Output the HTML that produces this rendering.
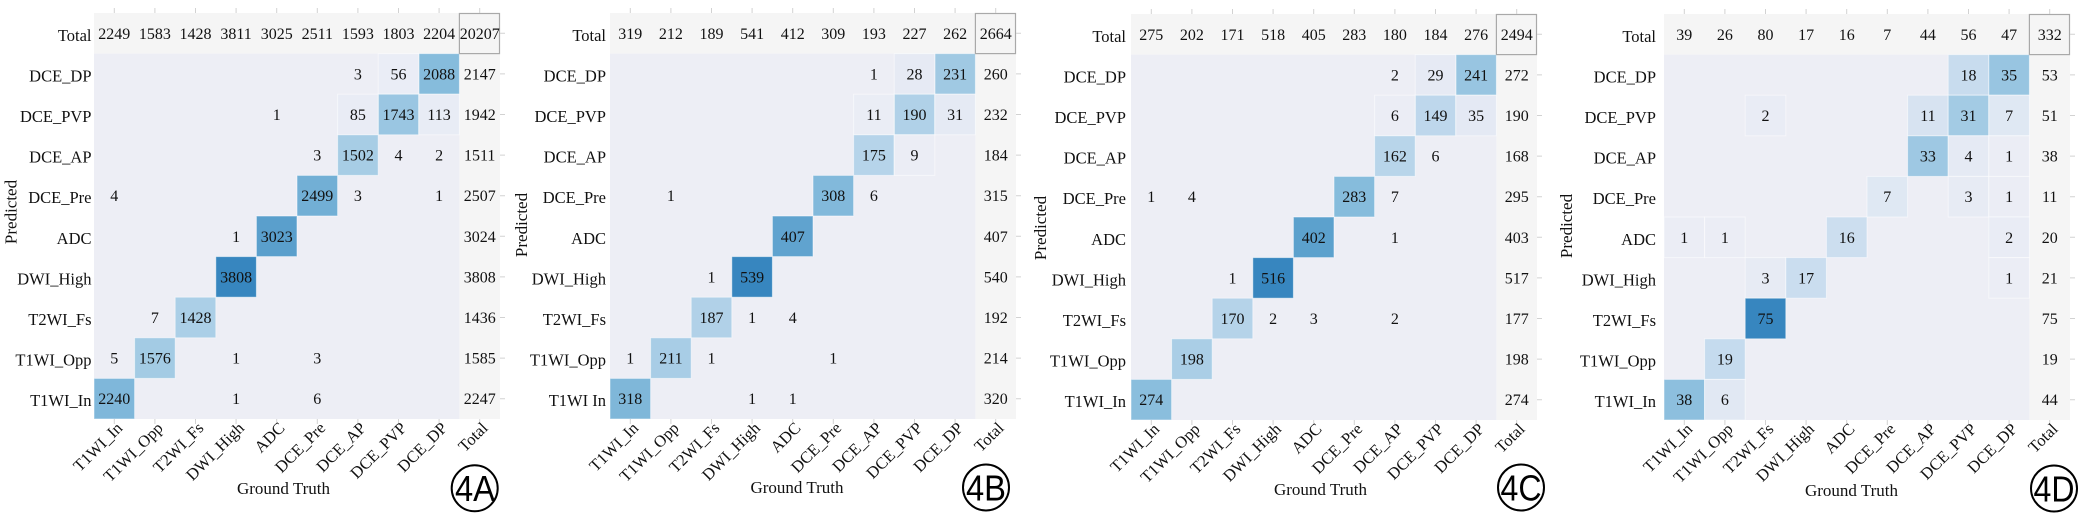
<!DOCTYPE html>
<html><head><meta charset="utf-8"><style>
html,body{margin:0;padding:0;background:#fff;}
svg{display:block;}
text{font-family:"Liberation Serif","Times New Roman",serif;fill:#111;}
.n{font-size:16px;text-anchor:middle;}
.l{font-size:16.5px;text-anchor:end;}
.t{font-size:17px;text-anchor:middle;}
.c{font-family:"Liberation Sans",Arial,sans-serif;font-size:36px;text-anchor:middle;fill:#000;}
.tk{stroke:#d2d2d2;stroke-width:1;fill:none;}
.cell{stroke:#fff;stroke-opacity:0.5;stroke-width:1;}
</style></head><body>
<svg width="2079" height="513" viewBox="0 0 2079 513" xmlns="http://www.w3.org/2000/svg">
<defs>
<g id="base">
<rect x="0" y="40.6" width="365.4" height="365.4" fill="#edeef5"/>
<rect x="0" y="0" width="406" height="40.6" fill="#f5f5f5"/>
<rect x="365.4" y="40.6" width="40.6" height="365.4" fill="#f5f5f5"/>
</g>
<g id="frame">
<rect x="365.4" y="0.5" width="40.1" height="40.1" fill="none" stroke="#a9a9a9" stroke-width="1.2"/>
<path class="tk" d="M20.3 -5V0M60.9 -5V0M101.5 -5V0M142.1 -5V0M182.7 -5V0M223.3 -5V0M263.9 -5V0M304.5 -5V0M345.1 -5V0M385.7 -5V0M20.3 406V411M60.9 406V411M101.5 406V411M142.1 406V411M182.7 406V411M223.3 406V411M263.9 406V411M304.5 406V411M345.1 406V411M385.7 406V411M406 20.3H411M406 60.9H411M406 101.5H411M406 142.1H411M406 182.7H411M406 223.3H411M406 263.9H411M406 304.5H411M406 345.1H411M406 385.7H411"/>
</g>
</defs>

<!-- ===== Panel A ===== -->
<g transform="translate(94,13)">
<use href="#base"/>
<rect class="cell" x="324.8" y="40.6" width="40.6" height="40.6" fill="#86bcdc"/>
<rect class="cell" x="284.2" y="40.6" width="40.6" height="40.6" fill="#eaedf6"/>
<rect class="cell" x="284.2" y="81.2" width="40.6" height="40.6" fill="#9ac6e2"/>
<rect class="cell" x="243.6" y="81.2" width="40.6" height="40.6" fill="#e9ecf5"/>
<rect class="cell" x="324.8" y="81.2" width="40.6" height="40.6" fill="#e8ecf5"/>
<rect class="cell" x="243.6" y="121.8" width="40.6" height="40.6" fill="#a7cde5"/>
<rect class="cell" x="203" y="162.4" width="40.6" height="40.6" fill="#72afd5"/>
<rect class="cell" x="162.4" y="203" width="40.6" height="40.6" fill="#5a9fcc"/>
<rect class="cell" x="121.8" y="243.6" width="40.6" height="40.6" fill="#3786bf"/>
<rect class="cell" x="81.2" y="284.2" width="40.6" height="40.6" fill="#abcfe7"/>
<rect class="cell" x="40.6" y="324.8" width="40.6" height="40.6" fill="#a3cbe4"/>
<rect class="cell" x="0" y="365.4" width="40.6" height="40.6" fill="#7fb7da"/>
<use href="#frame"/>
<g class="n">
<text x="20.3" y="25.8">2249</text><text x="60.9" y="25.8">1583</text><text x="101.5" y="25.8">1428</text><text x="142.1" y="25.8">3811</text><text x="182.7" y="25.8">3025</text><text x="223.3" y="25.8">2511</text><text x="263.9" y="25.8">1593</text><text x="304.5" y="25.8">1803</text><text x="345.1" y="25.8">2204</text><text x="385.7" y="25.8">20207</text>
<text x="263.9" y="66.4">3</text><text x="304.5" y="66.4">56</text><text x="345.1" y="66.4">2088</text><text x="385.7" y="66.4">2147</text>
<text x="182.7" y="107">1</text><text x="263.9" y="107">85</text><text x="304.5" y="107">1743</text><text x="345.1" y="107">113</text><text x="385.7" y="107">1942</text>
<text x="223.3" y="147.6">3</text><text x="263.9" y="147.6">1502</text><text x="304.5" y="147.6">4</text><text x="345.1" y="147.6">2</text><text x="385.7" y="147.6">1511</text>
<text x="20.3" y="188.2">4</text><text x="223.3" y="188.2">2499</text><text x="263.9" y="188.2">3</text><text x="345.1" y="188.2">1</text><text x="385.7" y="188.2">2507</text>
<text x="142.1" y="228.8">1</text><text x="182.7" y="228.8">3023</text><text x="385.7" y="228.8">3024</text>
<text x="142.1" y="269.4">3808</text><text x="385.7" y="269.4">3808</text>
<text x="60.9" y="310">7</text><text x="101.5" y="310">1428</text><text x="385.7" y="310">1436</text>
<text x="20.3" y="350.6">5</text><text x="60.9" y="350.6">1576</text><text x="142.1" y="350.6">1</text><text x="223.3" y="350.6">3</text><text x="385.7" y="350.6">1585</text>
<text x="20.3" y="391.2">2240</text><text x="142.1" y="391.2">1</text><text x="223.3" y="391.2">6</text><text x="385.7" y="391.2">2247</text>
</g>
<g class="l">
<text x="-2.5" y="27.8">Total</text><text x="-2.5" y="68.4">DCE_DP</text><text x="-2.5" y="109">DCE_PVP</text><text x="-2.5" y="149.6">DCE_AP</text><text x="-2.5" y="190.2">DCE_Pre</text><text x="-2.5" y="230.8">ADC</text><text x="-2.5" y="271.4">DWI_High</text><text x="-2.5" y="312">T2WI_Fs</text><text x="-2.5" y="352.6">T1WI_Opp</text><text x="-2.5" y="393.2">T1WI_In</text>
<text transform="translate(29.3,416) rotate(-45)">T1WI_In</text><text transform="translate(69.9,416) rotate(-45)">T1WI_Opp</text><text transform="translate(110.5,416) rotate(-45)">T2WI_Fs</text><text transform="translate(151.1,416) rotate(-45)">DWI_High</text><text transform="translate(191.7,416) rotate(-45)">ADC</text><text transform="translate(232.3,416) rotate(-45)">DCE_Pre</text><text transform="translate(272.9,416) rotate(-45)">DCE_AP</text><text transform="translate(313.5,416) rotate(-45)">DCE_PVP</text><text transform="translate(354.1,416) rotate(-45)">DCE_DP</text><text transform="translate(394.7,416) rotate(-45)">Total</text>
</g>
</g>
<text class="t" transform="translate(16.7,212) rotate(-90)">Predicted</text>
<text class="t" x="283.5" y="494">Ground Truth</text>
<circle cx="474.7" cy="488.3" r="23" fill="none" stroke="#000" stroke-width="2"/>
<text class="c" x="475" y="501" textLength="40" lengthAdjust="spacingAndGlyphs">4A</text>

<!-- ===== Panel B ===== -->
<g transform="translate(610,13)">
<use href="#base"/>
<rect class="cell" x="324.8" y="40.6" width="40.6" height="40.6" fill="#a0c9e3"/>
<rect class="cell" x="284.2" y="40.6" width="40.6" height="40.6" fill="#e6eaf4"/>
<rect class="cell" x="284.2" y="81.2" width="40.6" height="40.6" fill="#b0d1e8"/>
<rect class="cell" x="243.6" y="81.2" width="40.6" height="40.6" fill="#eaedf5"/>
<rect class="cell" x="324.8" y="81.2" width="40.6" height="40.6" fill="#e5eaf4"/>
<rect class="cell" x="243.6" y="121.8" width="40.6" height="40.6" fill="#b6d4ea"/>
<rect class="cell" x="284.2" y="121.8" width="40.6" height="40.6" fill="#ebedf5"/>
<rect class="cell" x="203" y="162.4" width="40.6" height="40.6" fill="#82b9db"/>
<rect class="cell" x="162.4" y="203" width="40.6" height="40.6" fill="#60a3cf"/>
<rect class="cell" x="121.8" y="243.6" width="40.6" height="40.6" fill="#3786bf"/>
<rect class="cell" x="81.2" y="284.2" width="40.6" height="40.6" fill="#b1d1e8"/>
<rect class="cell" x="40.6" y="324.8" width="40.6" height="40.6" fill="#a8cde6"/>
<rect class="cell" x="0" y="365.4" width="40.6" height="40.6" fill="#7fb7d9"/>
<use href="#frame"/>
<g class="n">
<text x="20.3" y="25.8">319</text><text x="60.9" y="25.8">212</text><text x="101.5" y="25.8">189</text><text x="142.1" y="25.8">541</text><text x="182.7" y="25.8">412</text><text x="223.3" y="25.8">309</text><text x="263.9" y="25.8">193</text><text x="304.5" y="25.8">227</text><text x="345.1" y="25.8">262</text><text x="385.7" y="25.8">2664</text>
<text x="263.9" y="66.4">1</text><text x="304.5" y="66.4">28</text><text x="345.1" y="66.4">231</text><text x="385.7" y="66.4">260</text>
<text x="263.9" y="107">11</text><text x="304.5" y="107">190</text><text x="345.1" y="107">31</text><text x="385.7" y="107">232</text>
<text x="263.9" y="147.6">175</text><text x="304.5" y="147.6">9</text><text x="385.7" y="147.6">184</text>
<text x="60.9" y="188.2">1</text><text x="223.3" y="188.2">308</text><text x="263.9" y="188.2">6</text><text x="385.7" y="188.2">315</text>
<text x="182.7" y="228.8">407</text><text x="385.7" y="228.8">407</text>
<text x="101.5" y="269.4">1</text><text x="142.1" y="269.4">539</text><text x="385.7" y="269.4">540</text>
<text x="101.5" y="310">187</text><text x="142.1" y="310">1</text><text x="182.7" y="310">4</text><text x="385.7" y="310">192</text>
<text x="20.3" y="350.6">1</text><text x="60.9" y="350.6">211</text><text x="101.5" y="350.6">1</text><text x="223.3" y="350.6">1</text><text x="385.7" y="350.6">214</text>
<text x="20.3" y="391.2">318</text><text x="142.1" y="391.2">1</text><text x="182.7" y="391.2">1</text><text x="385.7" y="391.2">320</text>
</g>
<g class="l">
<text x="-4" y="27.8">Total</text><text x="-4" y="68.4">DCE_DP</text><text x="-4" y="109">DCE_PVP</text><text x="-4" y="149.6">DCE_AP</text><text x="-4" y="190.2">DCE_Pre</text><text x="-4" y="230.8">ADC</text><text x="-4" y="271.4">DWI_High</text><text x="-4" y="312">T2WI_Fs</text><text x="-4" y="352.6">T1WI_Opp</text><text x="-4" y="393.2">T1WI In</text>
<text transform="translate(29.3,416) rotate(-45)">T1WI_In</text><text transform="translate(69.9,416) rotate(-45)">T1WI_Opp</text><text transform="translate(110.5,416) rotate(-45)">T2WI_Fs</text><text transform="translate(151.1,416) rotate(-45)">DWI_High</text><text transform="translate(191.7,416) rotate(-45)">ADC</text><text transform="translate(232.3,416) rotate(-45)">DCE_Pre</text><text transform="translate(272.9,416) rotate(-45)">DCE_AP</text><text transform="translate(313.5,416) rotate(-45)">DCE_PVP</text><text transform="translate(354.1,416) rotate(-45)">DCE_DP</text><text transform="translate(394.7,416) rotate(-45)">Total</text>
</g>
</g>
<text class="t" transform="translate(527,225) rotate(-90)">Predicted</text>
<text class="t" x="797" y="493">Ground Truth</text>
<circle cx="986" cy="487.5" r="23" fill="none" stroke="#000" stroke-width="2"/>
<text class="c" x="986" y="500.5" textLength="40" lengthAdjust="spacingAndGlyphs">4B</text>

<!-- ===== Panel C ===== -->
<g transform="translate(1131,14)">
<use href="#base"/>
<rect class="cell" x="324.8" y="40.6" width="40.6" height="40.6" fill="#98c5e1"/>
<rect class="cell" x="284.2" y="40.6" width="40.6" height="40.6" fill="#e6eaf4"/>
<rect class="cell" x="284.2" y="81.2" width="40.6" height="40.6" fill="#bed7ec"/>
<rect class="cell" x="324.8" y="81.2" width="40.6" height="40.6" fill="#e4e9f4"/>
<rect class="cell" x="243.6" y="81.2" width="40.6" height="40.6" fill="#ebedf5"/>
<rect class="cell" x="243.6" y="121.8" width="40.6" height="40.6" fill="#b8d5ea"/>
<rect class="cell" x="203" y="162.4" width="40.6" height="40.6" fill="#86bcdc"/>
<rect class="cell" x="162.4" y="203" width="40.6" height="40.6" fill="#5ca1cd"/>
<rect class="cell" x="121.8" y="243.6" width="40.6" height="40.6" fill="#3786bf"/>
<rect class="cell" x="81.2" y="284.2" width="40.6" height="40.6" fill="#b5d3e9"/>
<rect class="cell" x="40.6" y="324.8" width="40.6" height="40.6" fill="#aacee6"/>
<rect class="cell" x="0" y="365.4" width="40.6" height="40.6" fill="#8abedd"/>
<use href="#frame"/>
<g class="n">
<text x="20.3" y="25.8">275</text><text x="60.9" y="25.8">202</text><text x="101.5" y="25.8">171</text><text x="142.1" y="25.8">518</text><text x="182.7" y="25.8">405</text><text x="223.3" y="25.8">283</text><text x="263.9" y="25.8">180</text><text x="304.5" y="25.8">184</text><text x="345.1" y="25.8">276</text><text x="385.7" y="25.8">2494</text>
<text x="263.9" y="66.4">2</text><text x="304.5" y="66.4">29</text><text x="345.1" y="66.4">241</text><text x="385.7" y="66.4">272</text>
<text x="263.9" y="107">6</text><text x="304.5" y="107">149</text><text x="345.1" y="107">35</text><text x="385.7" y="107">190</text>
<text x="263.9" y="147.6">162</text><text x="304.5" y="147.6">6</text><text x="385.7" y="147.6">168</text>
<text x="20.3" y="188.2">1</text><text x="60.9" y="188.2">4</text><text x="223.3" y="188.2">283</text><text x="263.9" y="188.2">7</text><text x="385.7" y="188.2">295</text>
<text x="182.7" y="228.8">402</text><text x="263.9" y="228.8">1</text><text x="385.7" y="228.8">403</text>
<text x="101.5" y="269.4">1</text><text x="142.1" y="269.4">516</text><text x="385.7" y="269.4">517</text>
<text x="101.5" y="310">170</text><text x="142.1" y="310">2</text><text x="182.7" y="310">3</text><text x="263.9" y="310">2</text><text x="385.7" y="310">177</text>
<text x="60.9" y="350.6">198</text><text x="385.7" y="350.6">198</text>
<text x="20.3" y="391.2">274</text><text x="385.7" y="391.2">274</text>
</g>
<g class="l">
<text x="-5" y="27.8">Total</text><text x="-5" y="68.4">DCE_DP</text><text x="-5" y="109">DCE_PVP</text><text x="-5" y="149.6">DCE_AP</text><text x="-5" y="190.2">DCE_Pre</text><text x="-5" y="230.8">ADC</text><text x="-5" y="271.4">DWI_High</text><text x="-5" y="312">T2WI_Fs</text><text x="-5" y="352.6">T1WI_Opp</text><text x="-5" y="393.2">T1WI_In</text>
<text transform="translate(29.3,416) rotate(-45)">T1WI_In</text><text transform="translate(69.9,416) rotate(-45)">T1WI_Opp</text><text transform="translate(110.5,416) rotate(-45)">T2WI_Fs</text><text transform="translate(151.1,416) rotate(-45)">DWI_High</text><text transform="translate(191.7,416) rotate(-45)">ADC</text><text transform="translate(232.3,416) rotate(-45)">DCE_Pre</text><text transform="translate(272.9,416) rotate(-45)">DCE_AP</text><text transform="translate(313.5,416) rotate(-45)">DCE_PVP</text><text transform="translate(354.1,416) rotate(-45)">DCE_DP</text><text transform="translate(394.7,416) rotate(-45)">Total</text>
</g>
</g>
<text class="t" transform="translate(1046,228) rotate(-90)">Predicted</text>
<text class="t" x="1320.5" y="495">Ground Truth</text>
<circle cx="1521" cy="487.5" r="23" fill="none" stroke="#000" stroke-width="2"/>
<text class="c" x="1521" y="500.5" textLength="41" lengthAdjust="spacingAndGlyphs">4C</text>

<!-- ===== Panel D ===== -->
<g transform="translate(1664,14)">
<use href="#base"/>
<rect class="cell" x="284.2" y="40.6" width="40.6" height="40.6" fill="#c8dcee"/>
<rect class="cell" x="324.8" y="40.6" width="40.6" height="40.6" fill="#98c5e1"/>
<rect class="cell" x="81.2" y="81.2" width="40.6" height="40.6" fill="#e9ecf5"/>
<rect class="cell" x="243.6" y="81.2" width="40.6" height="40.6" fill="#d7e3f1"/>
<rect class="cell" x="284.2" y="81.2" width="40.6" height="40.6" fill="#a3cbe4"/>
<rect class="cell" x="324.8" y="81.2" width="40.6" height="40.6" fill="#dfe8f3"/>
<rect class="cell" x="243.6" y="121.8" width="40.6" height="40.6" fill="#9ec8e3"/>
<rect class="cell" x="284.2" y="121.8" width="40.6" height="40.6" fill="#e5eaf4"/>
<rect class="cell" x="324.8" y="121.8" width="40.6" height="40.6" fill="#ebedf5"/>
<rect class="cell" x="203" y="162.4" width="40.6" height="40.6" fill="#dfe8f3"/>
<rect class="cell" x="284.2" y="162.4" width="40.6" height="40.6" fill="#e7ebf4"/>
<rect class="cell" x="324.8" y="162.4" width="40.6" height="40.6" fill="#ebedf5"/>
<rect class="cell" x="0" y="203" width="40.6" height="40.6" fill="#ebedf5"/>
<rect class="cell" x="40.6" y="203" width="40.6" height="40.6" fill="#ebedf5"/>
<rect class="cell" x="162.4" y="203" width="40.6" height="40.6" fill="#ccdeef"/>
<rect class="cell" x="324.8" y="203" width="40.6" height="40.6" fill="#e9ecf5"/>
<rect class="cell" x="81.2" y="243.6" width="40.6" height="40.6" fill="#e7ebf4"/>
<rect class="cell" x="121.8" y="243.6" width="40.6" height="40.6" fill="#caddef"/>
<rect class="cell" x="324.8" y="243.6" width="40.6" height="40.6" fill="#ebedf5"/>
<rect class="cell" x="81.2" y="284.2" width="40.6" height="40.6" fill="#3786bf"/>
<rect class="cell" x="40.6" y="324.8" width="40.6" height="40.6" fill="#c5dbee"/>
<rect class="cell" x="0" y="365.4" width="40.6" height="40.6" fill="#8dbfde"/>
<rect class="cell" x="40.6" y="365.4" width="40.6" height="40.6" fill="#e1e8f3"/>
<use href="#frame"/>
<g class="n">
<text x="20.3" y="25.8">39</text><text x="60.9" y="25.8">26</text><text x="101.5" y="25.8">80</text><text x="142.1" y="25.8">17</text><text x="182.7" y="25.8">16</text><text x="223.3" y="25.8">7</text><text x="263.9" y="25.8">44</text><text x="304.5" y="25.8">56</text><text x="345.1" y="25.8">47</text><text x="385.7" y="25.8">332</text>
<text x="304.5" y="66.4">18</text><text x="345.1" y="66.4">35</text><text x="385.7" y="66.4">53</text>
<text x="101.5" y="107">2</text><text x="263.9" y="107">11</text><text x="304.5" y="107">31</text><text x="345.1" y="107">7</text><text x="385.7" y="107">51</text>
<text x="263.9" y="147.6">33</text><text x="304.5" y="147.6">4</text><text x="345.1" y="147.6">1</text><text x="385.7" y="147.6">38</text>
<text x="223.3" y="188.2">7</text><text x="304.5" y="188.2">3</text><text x="345.1" y="188.2">1</text><text x="385.7" y="188.2">11</text>
<text x="20.3" y="228.8">1</text><text x="60.9" y="228.8">1</text><text x="182.7" y="228.8">16</text><text x="345.1" y="228.8">2</text><text x="385.7" y="228.8">20</text>
<text x="101.5" y="269.4">3</text><text x="142.1" y="269.4">17</text><text x="345.1" y="269.4">1</text><text x="385.7" y="269.4">21</text>
<text x="101.5" y="310">75</text><text x="385.7" y="310">75</text>
<text x="60.9" y="350.6">19</text><text x="385.7" y="350.6">19</text>
<text x="20.3" y="391.2">38</text><text x="60.9" y="391.2">6</text><text x="385.7" y="391.2">44</text>
</g>
<g class="l">
<text x="-8" y="27.8">Total</text><text x="-8" y="68.4">DCE_DP</text><text x="-8" y="109">DCE_PVP</text><text x="-8" y="149.6">DCE_AP</text><text x="-8" y="190.2">DCE_Pre</text><text x="-8" y="230.8">ADC</text><text x="-8" y="271.4">DWI_High</text><text x="-8" y="312">T2WI_Fs</text><text x="-8" y="352.6">T1WI_Opp</text><text x="-8" y="393.2">T1WI_In</text>
<text transform="translate(29.3,416) rotate(-45)">T1WI_In</text><text transform="translate(69.9,416) rotate(-45)">T1WI_Opp</text><text transform="translate(110.5,416) rotate(-45)">T2WI_Fs</text><text transform="translate(151.1,416) rotate(-45)">DWI_High</text><text transform="translate(191.7,416) rotate(-45)">ADC</text><text transform="translate(232.3,416) rotate(-45)">DCE_Pre</text><text transform="translate(272.9,416) rotate(-45)">DCE_AP</text><text transform="translate(313.5,416) rotate(-45)">DCE_PVP</text><text transform="translate(354.1,416) rotate(-45)">DCE_DP</text><text transform="translate(394.7,416) rotate(-45)">Total</text>
</g>
</g>
<text class="t" transform="translate(1572,226) rotate(-90)">Predicted</text>
<text class="t" x="1851.5" y="496">Ground Truth</text>
<circle cx="2054" cy="488.5" r="23" fill="none" stroke="#000" stroke-width="2"/>
<text class="c" x="2054" y="501.5" textLength="41" lengthAdjust="spacingAndGlyphs">4D</text>
</svg>
</body></html>
